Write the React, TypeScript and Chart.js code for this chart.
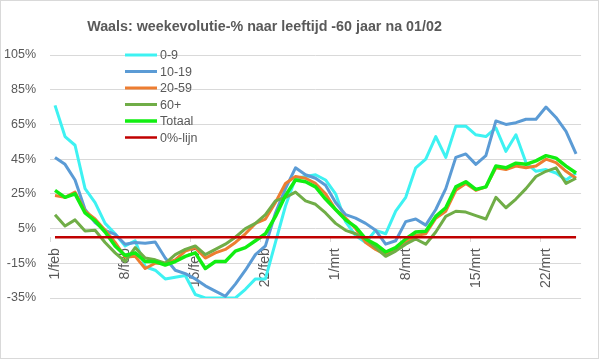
import React, { useEffect, useRef } from "react";
import { Chart, registerables } from "chart.js";

Chart.register(...registerables);

const TITLE = "Waals: weekevolutie-% naar leeftijd -60 jaar na 01/02";

const dates = [
  "1/feb", "2/feb", "3/feb", "4/feb", "5/feb", "6/feb", "7/feb",
  "8/feb", "9/feb", "10/feb", "11/feb", "12/feb", "13/feb", "14/feb",
  "15/feb", "16/feb", "17/feb", "18/feb", "19/feb", "20/feb", "21/feb",
  "22/feb", "23/feb", "24/feb", "25/feb", "26/feb", "27/feb", "28/feb",
  "1/mrt", "2/mrt", "3/mrt", "4/mrt", "5/mrt", "6/mrt", "7/mrt",
  "8/mrt", "9/mrt", "10/mrt", "11/mrt", "12/mrt", "13/mrt", "14/mrt",
  "15/mrt", "16/mrt", "17/mrt", "18/mrt", "19/mrt", "20/mrt", "21/mrt",
  "22/mrt", "23/mrt", "24/mrt", "25/mrt",
];

const shownTickLabels = ["1/feb", "8/feb", "15/feb", "22/feb", "1/mrt", "8/mrt", "15/mrt", "22/mrt"];

const yTicks = [-35, -15, 5, 25, 45, 65, 85, 105];

const age0_9 = [
  76, 58, 53, 28, 20, 8, 2, -5, -2, -17, -19, -24, -23, -22,
  -33, -35, -35, -35, -35, -30, -24, -24, -3, 18, 34, 35, 36, 33,
  25, 9, 1, -3, 4, 2, 15, 23, 40, 45, 58, 46, 64, 64,
  59, 58, 63, 49.5, 59, 43, 38, 39, 37, 33, 37,
];

const age10_19 = [
  46, 42, 33, 16, 8.5, 4, 1.7, -4, -3, -3.5, -2.7, -12, -19, -21,
  -24, -28, -31, -34, -27, -19, -10, -5, 14, 28, 40, 36, 34, 30,
  20, 13, 11, 8, 4, -4, -2, 9, 10.5, 7, 16, 28, 46, 48,
  42, 47, 67, 65, 66, 68, 68, 75, 69, 61, 48,
];

const age20_59 = [
  24, 23, 26, 15, 10.5, 4, -3, -11.5, -11, -18, -15, -15, -13, -8,
  -6, -12, -9, -7, -3, 2, 8, 10.5, 20, 31, 35, 34, 31, 25,
  16, 11, 5, -3, -7, -10, -7, -3, 1, 2, 11, 15, 27, 31,
  27, 29, 40, 39, 41, 40, 41, 45, 43, 38, 34,
];

const age60plus = [
  13, 6.5, 10, 3.6, 4, -3, -9, -14, -6, -12, -13, -15, -10, -7,
  -5, -10, -7, -4, 0, 5, 8, 13, 21, 23, 26, 21, 19, 14,
  8, 4, 2, -1, -6, -11, -8, -4, -1, -4, 3, 12, 15, 14.5,
  12.5, 10.5, 23, 17, 22, 28, 35, 38, 40, 31, 34,
];

const totaal = [
  27, 23, 25, 14, 9.5, 3, -5, -10.5, -9, -14, -14, -16, -14, -11,
  -9, -18, -14, -14, -8, -6, -2, 2, 12, 24, 33, 32, 29, 22,
  16, 10, 6, -1, -4, -8.5, -6, -1, 3, 3.5, 12, 17, 29, 32,
  27.6, 29, 41, 40, 42.7, 42, 44, 47, 45.6, 41, 37,
];

const zeroLine = dates.map(() => 0);

const seriesNames = ["0-9", "10-19", "20-59", "60+", "Totaal", "0%-lijn"];
const seriesColors = ["#3ef2f2", "#5b9bd5", "#ed7d31", "#70ad47", "#11ee11", "#c00000"];
const seriesWidths = [3, 3, 3, 3, 3.5, 2.5];
const seriesValues = [age0_9, age10_19, age20_59, age60plus, totaal, zeroLine];

const TEXT = "#595959";
const GRID = "#d9d9d9";

const framePlugin = {
  id: "frame",
  beforeDraw(chart: any) {
    const { ctx, width, height } = chart;
    ctx.save();
    ctx.fillStyle = "#ffffff";
    ctx.fillRect(0, 0, width, height);
    ctx.strokeStyle = GRID;
    ctx.lineWidth = 1;
    ctx.strokeRect(0.5, 0.5, width - 1, height - 1);
    ctx.restore();
  },
  afterDraw(chart: any) {
    const { ctx } = chart;
    ctx.save();
    // title
    ctx.fillStyle = TEXT;
    ctx.font = "bold 14.3px 'Liberation Sans', Arial, sans-serif";
    ctx.textAlign = "center";
    ctx.textBaseline = "alphabetic";
    ctx.fillText(TITLE, 264.5, 31);
    // legend
    const x0 = 125;
    const x1 = 157;
    const top = 55;
    const step = 16.5;
    ctx.font = "12.5px 'Liberation Sans', Arial, sans-serif";
    ctx.textAlign = "left";
    ctx.textBaseline = "middle";
    chart.data.datasets.forEach((ds: any, i: number) => {
      const y = top + i * step;
      ctx.strokeStyle = ds.borderColor;
      ctx.lineWidth = ds.borderWidth;
      ctx.beginPath();
      ctx.moveTo(x0, y);
      ctx.lineTo(x1, y);
      ctx.stroke();
      ctx.fillStyle = TEXT;
      ctx.fillText(ds.label, 160, y + 1);
    });
    ctx.restore();
  },
};

export default function App() {
  const ref = useRef<HTMLCanvasElement | null>(null);

  useEffect(() => {
    if (!ref.current) return;
    const n = seriesValues.length;
    const chart = new Chart(ref.current, {
      type: "line",
      data: {
        labels: dates,
        datasets: seriesValues.map((vals, i) => ({
          label: seriesNames[i],
          data: vals,
          borderColor: seriesColors[i],
          backgroundColor: seriesColors[i],
          borderWidth: seriesWidths[i],
          pointRadius: 0,
          pointHoverRadius: 0,
          tension: 0,
          fill: false,
          order: n - i,
          borderJoinStyle: "round" as const,
        })),
      },
      options: {
        responsive: false,
        animation: false,
        events: [],
        layout: { padding: { top: 55, bottom: 61, left: 0, right: 15 } },
        plugins: {
          legend: { display: false },
          title: { display: false },
          tooltip: { enabled: false },
        },
        scales: {
          x: {
            type: "category",
            position: { y: 0 } as any,
            offset: true,
            border: { display: false },
            grid: {
              offset: true,
              drawOnChartArea: false,
              drawTicks: true,
              tickLength: 5,
              color: (c: any) => (c.index % 7 === 0 ? GRID : "rgba(0,0,0,0)"),
            },
            ticks: {
              autoSkip: false,
              minRotation: 90,
              maxRotation: 90,
              padding: 6,
              color: TEXT,
              font: { family: "'Liberation Sans', Arial, sans-serif", size: 14 },
              callback: (_v: any, i: number) =>
                shownTickLabels.includes(dates[i]) ? dates[i] : "",
            },
          },
          y: {
            min: yTicks[0],
            max: yTicks[yTicks.length - 1],
            border: { display: false },
            grid: { color: GRID, drawTicks: false, lineWidth: 1 },
            afterFit: (s: any) => {
              s.width = 50;
            },
            ticks: {
              stepSize: yTicks[1] - yTicks[0],
              padding: 14,
              color: TEXT,
              font: { family: "'Liberation Sans', Arial, sans-serif", size: 12.5 },
              callback: (v: any) => v + "%",
            },
          },
        },
      },
      plugins: [framePlugin],
    });
    return () => chart.destroy();
  }, []);

  return (
    <div style={{ position: "fixed", left: 0, top: 0, width: 599, height: 359, background: "#fff" }}>
      <canvas ref={ref} width={599} height={359} style={{ width: 599, height: 359, display: "block" }} />
    </div>
  );
}
